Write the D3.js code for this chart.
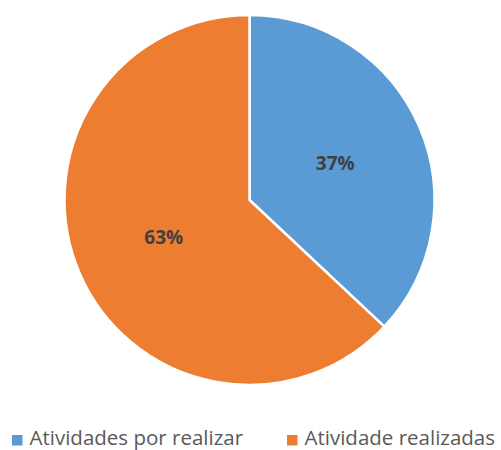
<!DOCTYPE html>
<html>
<head>
<meta charset="utf-8">
<script src="https://cdn.jsdelivr.net/npm/d3@7"></script>
<style>
  body { margin: 0; background: #fff; }
  svg { display: block; font-family: "Open Sans", sans-serif; }
</style>
</head>
<body>
<div id="chart"></div>
<script>
const categories = ["Atividades por realizar", "Atividade realizadas"];
const values = [37, 63];
const colors = ["#5B9BD5", "#ED7D31"];

const width = 501;
const height = 450;
const cx = 249.5, cy = 200, radius = 185;

const svg = d3.select("#chart")
    .append("svg")
    .attr("width", width)
    .attr("height", height);

const data = categories.map((c, i) => ({ name: c, value: values[i], color: colors[i] }));

const pie = d3.pie()
    .sort(null)
    .value(d => d.value);

const arc = d3.arc()
    .innerRadius(0)
    .outerRadius(radius);

const labelArc = d3.arc()
    .innerRadius(radius * 0.505)
    .outerRadius(radius * 0.505);

const g = svg.append("g")
    .attr("transform", `translate(${cx},${cy})`);

const arcs = pie(data);

g.selectAll("path")
    .data(arcs)
    .enter()
    .append("path")
    .attr("d", arc)
    .attr("fill", d => d.data.color)
    .attr("stroke", "#fff")
    .attr("stroke-width", 2.5)
    .attr("stroke-linejoin", "round");

const total = d3.sum(values);

g.selectAll("text.label")
    .data(arcs)
    .enter()
    .append("text")
    .attr("class", "label")
    .attr("transform", d => `translate(${labelArc.centroid(d)})`)
    .attr("text-anchor", "middle")
    .attr("dy", "0.36em")
    .attr("font-size", 19)
    .attr("font-weight", "bold")
    .attr("fill", "#404040")
    .text(d => Math.round(d.data.value / total * 100) + "%");

// Legend
const legendX = [12, 287];
const legend = svg.append("g");

const items = legend.selectAll("g")
    .data(data)
    .enter()
    .append("g")
    .attr("transform", (d, i) => `translate(${legendX[i]},0)`);

items.append("rect")
    .attr("x", 0)
    .attr("y", 435)
    .attr("width", 10.5)
    .attr("height", 10.5)
    .attr("fill", d => d.color);

items.append("text")
    .attr("x", 17.5)
    .attr("y", 444.5)
    .attr("font-size", 20.5)
    .attr("fill", "#595959")
    .text(d => d.name);
</script>
</body>
</html>
